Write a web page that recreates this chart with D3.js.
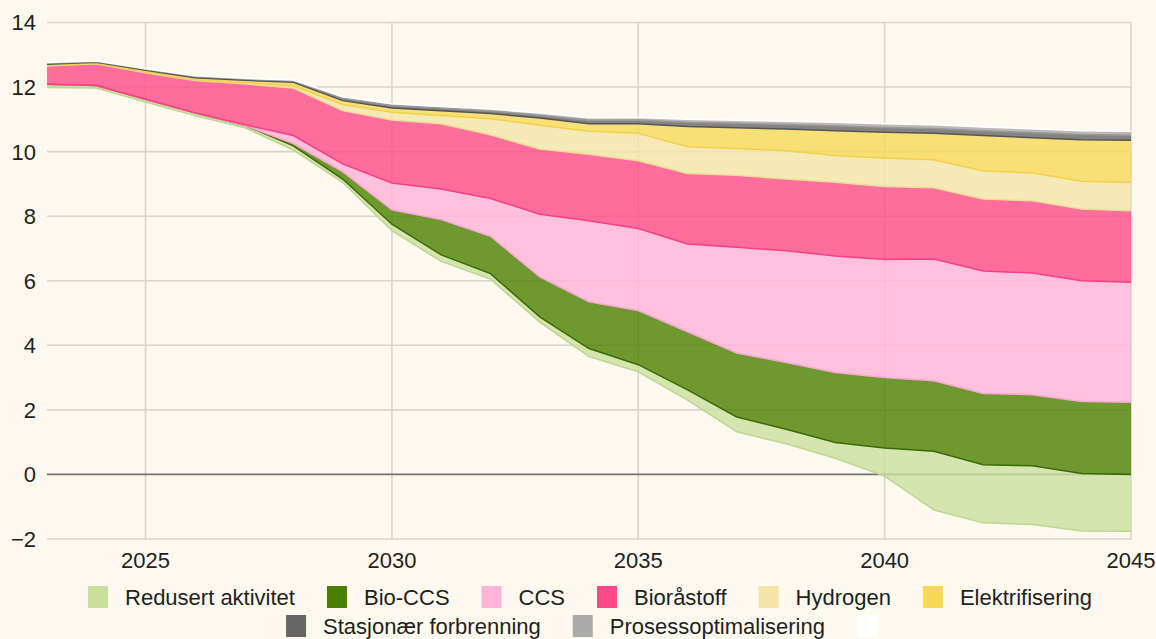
<!DOCTYPE html>
<html>
    <head>
        <meta charset="utf-8" />
        <title>Utslippsreduksjoner</title>

        <style type="text/css">
            body {
                margin: 0;
                background-color: #fef9ee;
            }
            #chart {
                width: 1156px;
                height: 639px;
            }
            .grid line {
                stroke: #d9d5cb;
                stroke-width: 1.6px;
            }
            .zero {
                stroke: #737373;
                stroke-width: 1.8px;
            }
            .tick-label {
                font-family: "Liberation Sans", Arial, sans-serif;
                font-size: 22px;
                fill: #1f1f1f;
            }
            .legend text {
                font-family: "Liberation Sans", Arial, sans-serif;
                font-size: 22px;
                fill: #1f1f1f;
            }
        </style>

        <script
            type="text/javascript"
            src="https://d3js.org/d3.v7.min.js"
        ></script>
    </head>
    <body>
        <div id="chart"></div>

        <script type="text/javascript">
            var years = [2023, 2024, 2025, 2026, 2027, 2028, 2029, 2030, 2031, 2032, 2033, 2034,
                2035, 2036, 2037, 2038, 2039, 2040, 2041, 2042, 2043, 2044, 2045];

            // usynlig grunnlinje (gjenstående utslipp)
            var base = [11.99, 11.97, 11.54, 11.12, 10.75, 10.05, 9.05, 7.55, 6.6, 6.05, 4.72, 3.65,
                3.18, 2.3, 1.32, 0.95, 0.5, -0.05, -1.1, -1.5, -1.55, -1.75, -1.76];
            var redusertAktivitet = [0.1, 0.08, 0.08, 0.08, 0.07, 0.13, 0.1, 0.2, 0.2, 0.17, 0.16, 0.25,
                0.22, 0.32, 0.46, 0.45, 0.49, 0.87, 1.82, 1.8, 1.82, 1.78, 1.76];
            var bioCCS = [0, 0, 0, 0, 0, 0.07, 0.23, 0.45, 1.1, 1.16, 1.24, 1.45,
                1.68, 1.8, 1.98, 2.07, 2.17, 2.18, 2.18, 2.21, 2.2, 2.23, 2.24];
            var ccs = [0, 0, 0, 0, 0.02, 0.25, 0.24, 0.83, 0.94, 1.17, 1.94, 2.51,
                2.54, 2.72, 3.28, 3.46, 3.61, 3.66, 3.77, 3.79, 3.77, 3.74, 3.71];
            var bioraastoff = [0.56, 0.67, 0.82, 1.0, 1.26, 1.47, 1.65, 1.95, 2.02, 1.97, 2.02, 2.06,
                2.1, 2.18, 2.23, 2.22, 2.28, 2.26, 2.21, 2.23, 2.24, 2.22, 2.22];
            var hydrogen = [0.02, 0.02, 0.03, 0.03, 0.04, 0.07, 0.19, 0.24, 0.26, 0.5, 0.74, 0.71,
                0.85, 0.83, 0.83, 0.88, 0.83, 0.88, 0.87, 0.87, 0.86, 0.86, 0.87];
            var elektrifisering = [0.04, 0.03, 0.05, 0.06, 0.07, 0.11, 0.12, 0.13, 0.15, 0.16, 0.22, 0.23,
                0.29, 0.63, 0.64, 0.67, 0.77, 0.8, 0.82, 1.1, 1.09, 1.29, 1.31];
            var stasjonaer = [0.03, 0.02, 0.03, 0.04, 0.04, 0.04, 0.07, 0.08, 0.08, 0.08, 0.09, 0.11,
                0.12, 0.13, 0.14, 0.14, 0.15, 0.15, 0.15, 0.15, 0.16, 0.16, 0.16];
            var prosess = [0.02, 0.02, 0.02, 0.02, 0.02, 0.03, 0.05, 0.05, 0.05, 0.06, 0.07, 0.08,
                0.08, 0.09, 0.09, 0.1, 0.11, 0.11, 0.11, 0.11, 0.12, 0.12, 0.12];
            var ukjent = [0.02, 0.02, 0.02, 0.02, 0.02, 0.02, 0.02, 0.02, 0.02, 0.02, 0.02, 0.02,
                0.02, 0.02, 0.02, 0.02, 0.02, 0.02, 0.02, 0.02, 0.02, 0.02, 0.02];

            var seriesNames = ["Redusert aktivitet", "Bio-CCS", "CCS", "Bioråstoff", "Hydrogen",
                "Elektrifisering", "Stasjonær forbrenning", "Prosessoptimalisering", ""];
            var seriesColors = ["#c9e09f", "#4a7f00", "#ffb3d7", "#ff4a88", "#f3e5a8",
                "#f7d958", "#666666", "#aaaaaa", "#ffffff"];
            var lineColors = ["#bdd690", "#3d6a00", "#ffa6cf", "#ff3d80", "#eedc96",
                "#f2d04a", "#555555", "#999999", "#ffffff"];
            var yTicks = [-2, 0, 2, 4, 6, 8, 10, 12, 14];
            var xTicks = [2025, 2030, 2035, 2040, 2045];

            var width = 1156,
                height = 639;

            var svg = d3
                .select("#chart")
                .append("svg")
                .attr("width", width)
                .attr("height", height);

            var xScale = d3.scaleLinear().domain([2023, 2045]).range([47, 1131]);
            var yScale = d3.scaleLinear().domain([-2, 14]).range([539, 22.5]);

            // tabell for d3.stack
            var allSeries = [base, redusertAktivitet, bioCCS, ccs, bioraastoff, hydrogen,
                elektrifisering, stasjonaer, prosess, ukjent];
            var keys = ["base"].concat(seriesNames.map(function (d, i) {
                return "s" + i;
            }));
            var rows = years.map(function (yr, j) {
                var row = { year: yr };
                keys.forEach(function (k, i) {
                    row[k] = allSeries[i][j];
                });
                return row;
            });

            var stacked = d3.stack().keys(keys)(rows);

            // rutenett
            var grid = svg.append("g").attr("class", "grid");
            grid.selectAll(".hline")
                .data(yTicks.filter(function (d) { return d != 0; }))
                .enter()
                .append("line")
                .attr("x1", xScale(2023))
                .attr("x2", xScale(2045))
                .attr("y1", function (d) { return yScale(d); })
                .attr("y2", function (d) { return yScale(d); });
            grid.selectAll(".vline")
                .data(xTicks)
                .enter()
                .append("line")
                .attr("x1", function (d) { return xScale(d); })
                .attr("x2", function (d) { return xScale(d); })
                .attr("y1", yScale(14))
                .attr("y2", yScale(-2));

            svg.append("line")
                .attr("class", "zero")
                .attr("x1", xScale(2023))
                .attr("x2", xScale(2045))
                .attr("y1", yScale(0))
                .attr("y2", yScale(0));

            var area = d3
                .area()
                .x(function (d) { return xScale(d.data.year); })
                .y0(function (d) { return yScale(d[0]); })
                .y1(function (d) { return yScale(d[1]); });

            var bottomLine = d3
                .line()
                .x(function (d) { return xScale(d.data.year); })
                .y(function (d) { return yScale(d[0]); });

            var layers = svg
                .selectAll(".layer")
                .data(stacked.slice(1))
                .enter()
                .append("g")
                .attr("class", "layer");

            layers.append("path")
                .attr("d", area)
                .attr("fill", function (d, i) { return seriesColors[i]; })
                .attr("fill-opacity", 0.8);

            layers.append("path")
                .attr("d", bottomLine)
                .attr("fill", "none")
                .attr("stroke", function (d, i) { return lineColors[i]; })
                .attr("stroke-width", 1.5);

            // akser
            svg.selectAll(".ylabel")
                .data(yTicks)
                .enter()
                .append("text")
                .attr("class", "tick-label")
                .attr("x", 36)
                .attr("y", function (d) { return yScale(d); })
                .attr("dy", "0.36em")
                .attr("text-anchor", "end")
                .text(function (d) { return d < 0 ? "\u2212" + Math.abs(d) : d; });

            svg.selectAll(".xlabel")
                .data(xTicks)
                .enter()
                .append("text")
                .attr("class", "tick-label")
                .attr("x", function (d) { return xScale(d); })
                .attr("y", 568)
                .attr("text-anchor", "middle")
                .text(function (d) { return d; });

            // legende
            var legendRows = [[0, 1, 2, 3, 4, 5], [6, 7, 8]];
            var legendY = [597, 626];
            var swW = 20, swH = 22, gapText = 17, gapItem = 32;
            var legend = svg.append("g").attr("class", "legend");

            legendRows.forEach(function (row, r) {
                var g = legend.append("g");
                var x = 0;
                row.forEach(function (i) {
                    g.append("rect")
                        .attr("x", x)
                        .attr("y", legendY[r] - swH / 2)
                        .attr("width", swW)
                        .attr("height", swH)
                        .attr("fill", seriesColors[i]);
                    var t = g.append("text")
                        .attr("x", x + swW + gapText)
                        .attr("y", legendY[r])
                        .attr("dy", "0.35em")
                        .text(seriesNames[i]);
                    x += swW + gapText + t.node().getComputedTextLength() + gapItem;
                });
                var rowWidth = x - gapItem;
                g.attr("transform", "translate(" + (590 - rowWidth / 2) + ",0)");
            });
        </script>
    </body>
</html>
